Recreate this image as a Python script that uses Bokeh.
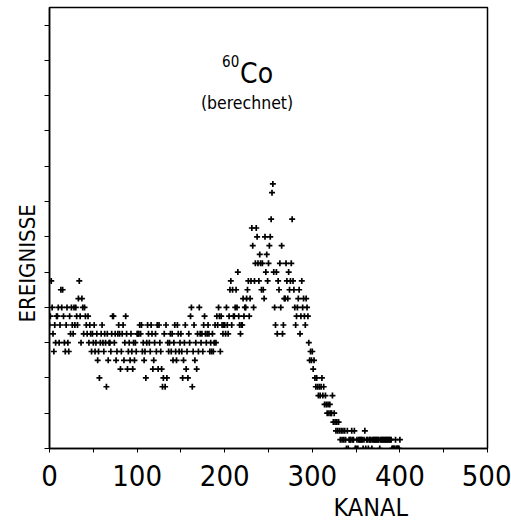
from bokeh.plotting import figure
from bokeh.models import Range1d, FixedTicker, Label, Title
from bokeh.embed import file_html
from bokeh.resources import INLINE

# Calculated 60Co pulse-height spectrum: events per channel, channels 0..400
first_channel = 0
counts = [
    14, 15, 19, 16, 13, 11, 14, 12, 15, 15,
    16, 12, 14, 18, 16, 18, 15, 12, 11, 14,
    16, 12, 11, 15, 13, 16, 14, 13, 16, 14,
    16, 15, 14, 17, 19, 15, 12, 17, 16, 13,
    16, 15, 14, 13, 15, 12, 14, 13, 11, 13,
    12, 14, 11, 12, 13, 10, 11, 8, 12, 13,
    14, 12, 11, 13, 12, 7, 13, 10, 12, 12,
    11, 13, 15, 15, 12, 13, 10, 11, 13, 14,
    13, 9, 11, 13, 14, 10, 12, 15, 13, 9,
    11, 12, 10, 13, 11, 9, 12, 10, 12, 11,
    13, 13, 13, 14, 13, 14, 11, 12, 10, 11,
    8, 12, 14, 13, 12, 11, 14, 13, 9, 10,
    12, 13, 11, 14, 9, 14, 12, 11, 9, 7,
    8, 13, 7, 14, 8, 12, 11, 12, 13, 11,
    13, 10, 12, 14, 11, 10, 14, 13, 11, 12,
    13, 11, 8, 10, 12, 14, 9, 11, 8, 13,
    12, 15, 16, 7, 11, 14, 10, 12, 9, 13,
    11, 16, 13, 12, 13, 11, 14, 15, 13, 12,
    13, 14, 13, 11, 12, 11, 13, 11, 12, 14,
    12, 15, 14, 16, 15, 11, 15, 14, 13, 14,
    14, 13, 16, 14, 13, 15, 18, 19, 14, 18,
    15, 15, 16, 18, 16, 20, 15, 14, 13, 14,
    14, 17, 15, 16, 16, 17, 18, 19, 15, 17,
    19, 25, 23, 16, 19, 21, 25, 24, 21, 19,
    22, 21, 18, 21, 18, 17, 24, 20, 22, 19,
    21, 23, 24, 26, 29, 30, 20, 16, 14, 20,
    13, 19, 18, 21, 16, 23, 13, 14, 17, 17,
    21, 19, 17, 20, 18, 19, 21, 26, 19, 18,
    16, 14, 15, 16, 17, 18, 13, 15, 19, 16,
    17, 15, 14, 17, 16, 15, 12, 10, 11, 10,
    11, 9, 10, 8, 7, 8, 7, 6, 7, 6,
    7, 8, 6, 7, 5, 6, 5, 4, 5, 4,
    5, 4, 4, 6, 3, 4, 3, 2, 3, 2,
    3, 2, 1, 2, 1, 2, 1, 2, 1, 0,
    2, 0, 1, 1, 1, 2, 1, 1, 2, 0,
    0, 1, 0, 1, 1, 1, 1, 1, 0, 1,
    2, 0, 1, 1, 0, 1, 1, 1, 0, 1,
    1, 1, 1, 1, 1, 1, 1, 0, 1, 1,
    1, 1, 1, 1, 1, 1, 1, 1, 1, 1,
    1, 0, 0, 0, 0, 1, 0, 0, 0, 0, 1,
]
channels = list(range(first_channel, first_channel + len(counts)))

x_ticks = [0, 100, 200, 300, 400, 500]
x_minor_ticks = [50, 150, 250, 350, 450]
y_ticks = [0, 4, 8, 12, 16, 20, 24, 28, 32, 36, 40, 44, 48]

FONT = "DejaVu Sans Condensed"

p = figure(width=511, height=532, output_backend="svg", toolbar_location=None,
           x_range=Range1d(0, 500), y_range=Range1d(0, 50),
           min_border_left=49, min_border_right=24,
           min_border_top=7, min_border_bottom=84)
p.background_fill_color = "white"
p.border_fill_color = "white"
p.xgrid.visible = False
p.ygrid.visible = False
p.outline_line_color = "black"
p.outline_line_width = 1.5

# x axis: labelled every 100 channels, extra ticks halfway
p.xaxis.ticker = FixedTicker(ticks=x_ticks, minor_ticks=x_minor_ticks)
p.xaxis.axis_line_color = "black"
p.xaxis.axis_line_width = 1.5
p.xaxis.major_tick_out = 4
p.xaxis.major_tick_in = 0
p.xaxis.minor_tick_out = 4
p.xaxis.minor_tick_in = 0
p.xaxis.major_tick_line_color = "black"
p.xaxis.minor_tick_line_color = "black"
p.xaxis.major_label_standoff = 12
p.xaxis.major_label_text_font = FONT
p.xaxis.major_label_text_font_size = "29px"
p.xaxis.major_label_text_color = "black"

# y axis: unlabelled ticks only
p.yaxis.ticker = FixedTicker(ticks=y_ticks, minor_ticks=[])
p.yaxis.axis_line_color = "black"
p.yaxis.axis_line_width = 1.5
p.yaxis.major_tick_out = 5
p.yaxis.major_tick_in = 0
p.yaxis.major_tick_line_color = "black"
p.yaxis.major_label_overrides = {t: "" for t in y_ticks}
p.yaxis.major_label_text_font_size = "1px"
p.yaxis.major_label_standoff = 0

p.scatter(channels, counts, marker="cross", size=6, line_width=1.7,
          line_color="black")

# axis titles placed in the side panels
p.add_layout(Title(text="KANAL", align="left", offset=284, standoff=4,
                   text_font=FONT, text_font_size="25px",
                   text_font_style="normal", text_color="black"), "below")
p.add_layout(Title(text="EREIGNISSE", align="left", offset=126, standoff=10,
                   text_font=FONT, text_font_size="22px",
                   text_font_style="normal", text_color="black"), "left")

# nuclide title with mass number as superscript
p.add_layout(Label(x=197, y=43.9, text="60", text_font=FONT,
                   text_font_size="15px", text_color="black",
                   text_align="left", text_baseline="alphabetic"))
p.add_layout(Label(x=217.5, y=42.5, text="Co", text_font=FONT,
                   text_font_size="28px", text_color="black",
                   text_align="left", text_baseline="alphabetic"))
p.add_layout(Label(x=225.5, y=39.2, text="(berechnet)", text_font=FONT,
                   text_font_size="17.5px", text_color="black",
                   text_align="center", text_baseline="alphabetic"))

open("out.html", "w").write(file_html(p, INLINE))
